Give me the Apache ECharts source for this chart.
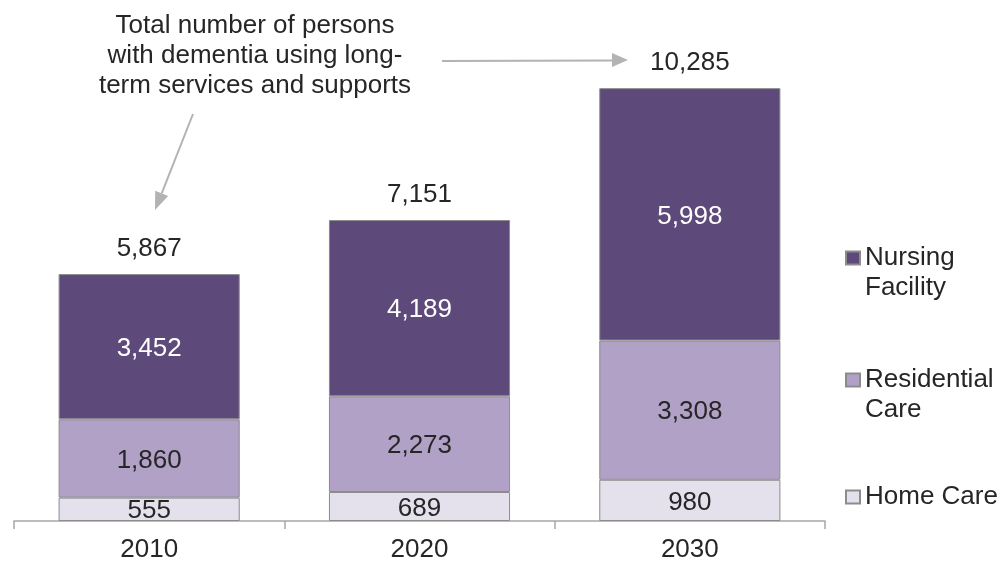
<!DOCTYPE html>
<html>
<head>
<meta charset="utf-8">
<script src="https://cdn.jsdelivr.net/npm/echarts@6/dist/echarts.min.js"></script>
<style>
html,body{margin:0;padding:0;background:#fff;}
#chart{width:1003px;height:563px;}
</style>
</head>
<body>
<div id="chart"></div>
<script>
const categories = ['2010', '2020', '2030'];
const homeCare = [555, 689, 980];
const residentialCare = [1860, 2273, 3308];
const nursingFacility = [3452, 4189, 5998];
const totals = [5867, 7151, 10285];
const annotation = 'Total number of persons\nwith dementia using long-\nterm services and supports';
const legendLabels = {
  'Nursing Facility': '\nNursing\nFacility',
  'Residential Care': '\nResidential\nCare',
  'Home Care': 'Home Care'
};

const FONT = 'Liberation Sans, Arial, sans-serif';
const TXT = '#262626';
const FS = 26;
const fmt = v => v.toLocaleString('en-US');

const chart = echarts.init(document.getElementById('chart'));

function legendFor(name, top) {
  return {
    data: [{ name: name, icon: 'rect' }],
    orient: 'vertical',
    left: 845,
    top: top,
    padding: 0,
    itemWidth: 14,
    itemHeight: 13,
    itemGap: 0,
    selectedMode: false,
    formatter: n => legendLabels[n],
    textStyle: { fontFamily: FONT, fontSize: FS, color: TXT, lineHeight: 30 }
  };
}

const labelBase = { show: true, position: 'inside', offset: [0, 2], formatter: p => fmt(p.value), fontFamily: FONT, fontSize: FS };
const barBase = { type: 'bar', barWidth: '67%', barGap: '-100%' };
const border = { borderColor: '#8c8c8c', borderWidth: 1 };

const option = {
  animation: false,
  backgroundColor: '#ffffff',
  title: {
    text: annotation,
    left: 250,
    top: 6,
    textAlign: 'center',
    textStyle: { fontFamily: FONT, fontSize: FS, fontWeight: 'normal', color: TXT, lineHeight: 30 }
  },
  legend: [
    legendFor('Nursing Facility', 213),
    legendFor('Residential Care', 335),
    legendFor('Home Care', 482)
  ],
  grid: { left: 14, right: 178, top: 16, bottom: 42, containLabel: false },
  xAxis: {
    type: 'category',
    data: categories,
    axisLine: { lineStyle: { color: '#a6a6a6', width: 1.5 } },
    axisTick: { show: true, length: 8, lineStyle: { color: '#a6a6a6', width: 1.5 } },
    axisLabel: { fontFamily: FONT, fontSize: FS, color: TXT, margin: 16 }
  },
  yAxis: { type: 'value', min: 0, max: 12000, show: false, splitLine: { show: false } },
  series: [
    Object.assign({}, barBase, {
      name: 'Home Care', stack: 'total', data: homeCare,
      itemStyle: Object.assign({ color: '#e4e0ec' }, border),
      label: Object.assign({ color: TXT }, labelBase)
    }),
    Object.assign({}, barBase, {
      name: 'Residential Care', stack: 'total', data: residentialCare,
      itemStyle: Object.assign({ color: '#b1a1c7' }, border),
      label: Object.assign({ color: TXT }, labelBase)
    }),
    Object.assign({}, barBase, {
      name: 'Nursing Facility', stack: 'total', data: nursingFacility,
      itemStyle: Object.assign({ color: '#5e497b' }, border),
      label: Object.assign({ color: '#ffffff' }, labelBase)
    }),
    Object.assign({}, barBase, {
      name: 'Total', data: totals, z: 0,
      itemStyle: { color: 'rgba(0,0,0,0)' },
      label: { show: true, position: 'top', distance: 12, formatter: p => fmt(p.value), fontFamily: FONT, fontSize: FS, color: TXT },
      emphasis: { disabled: true }
    })
  ],
  graphic: [
    { type: 'line', shape: { x1: 193, y1: 114, x2: 161.7, y2: 193.3 }, style: { stroke: '#b3b3b3', lineWidth: 2 } },
    { type: 'polygon', shape: { points: [[155, 210], [168.2, 195.9], [155.2, 190.7]] }, style: { fill: '#b3b3b3' } },
    { type: 'line', shape: { x1: 442, y1: 61, x2: 612, y2: 60.5 }, style: { stroke: '#b3b3b3', lineWidth: 2 } },
    { type: 'polygon', shape: { points: [[628, 60], [612, 53], [612, 67]] }, style: { fill: '#b3b3b3' } }
  ]
};
chart.setOption(option);
</script>
</body>
</html>
